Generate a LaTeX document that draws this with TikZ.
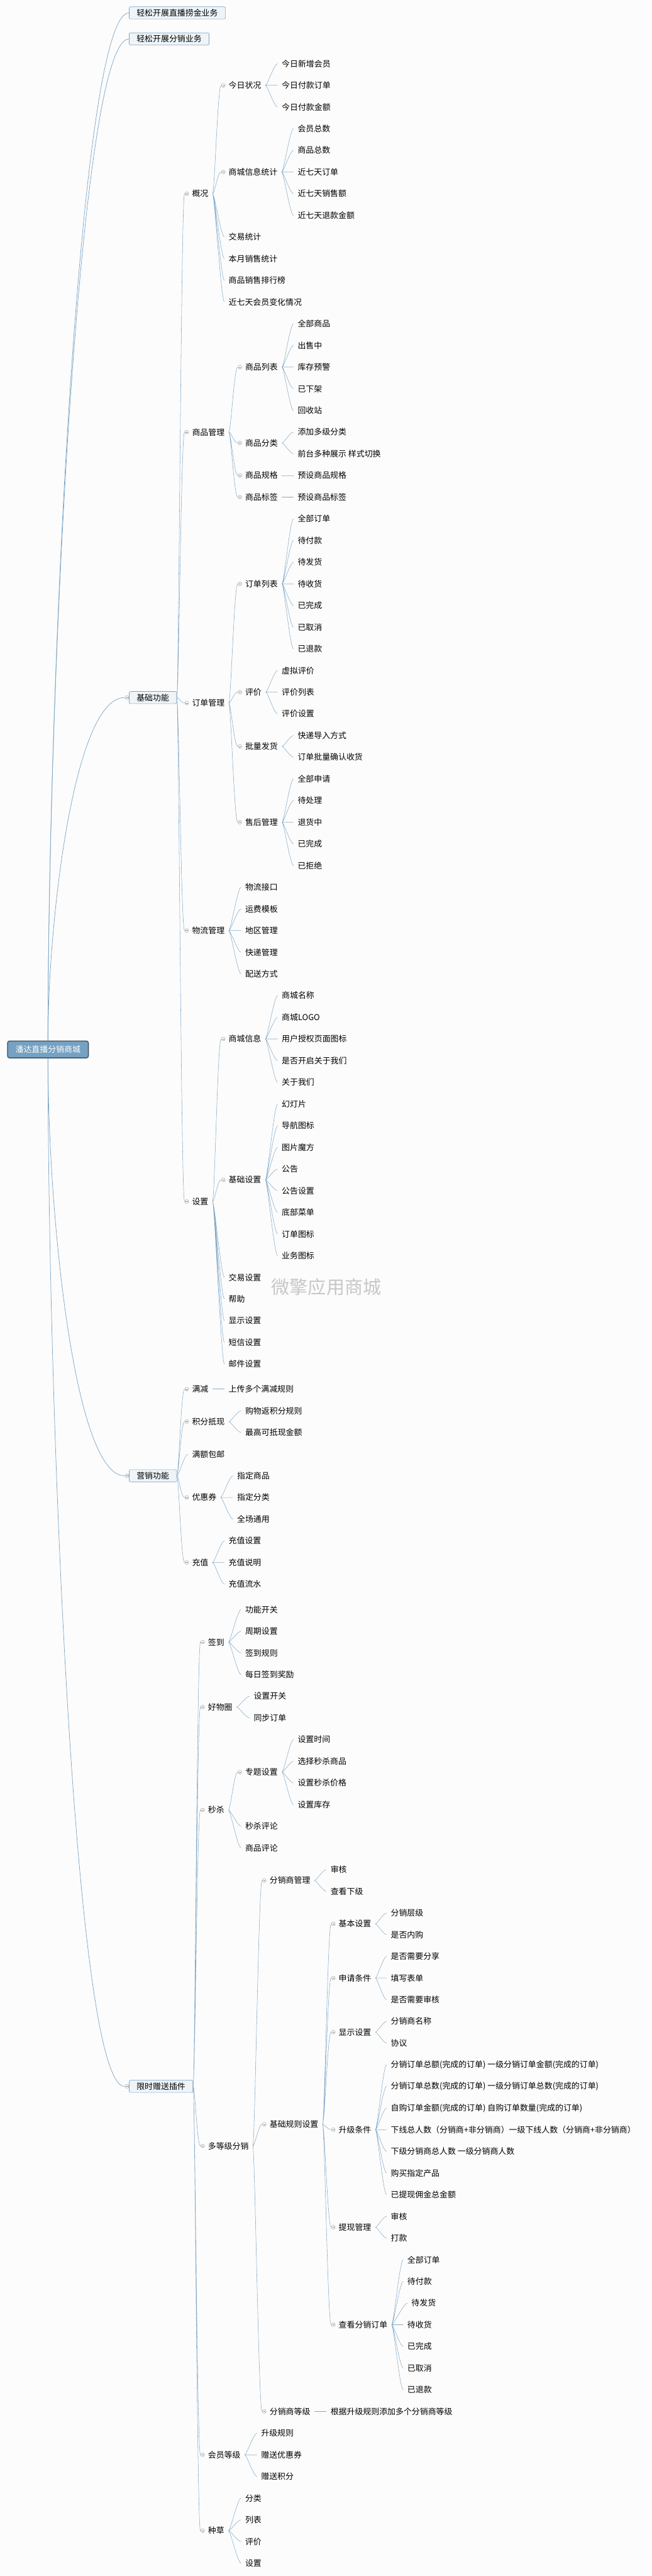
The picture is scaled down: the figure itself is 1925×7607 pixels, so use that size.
\documentclass[tikz,border=0pt]{standalone}
\usepackage{fontspec}
\newfontfamily\zh{Noto Sans CJK SC}
\usetikzlibrary{arrows.meta}
\definecolor{linkc}{RGB}{128,168,200}
\definecolor{boxfill}{RGB}{238,244,248}
\definecolor{boxline}{RGB}{125,164,196}
\definecolor{rootfill}{RGB}{117,161,194}
\definecolor{rootline}{RGB}{62,80,96}
\definecolor{bgc}{RGB}{252,252,252}
\definecolor{foldc}{RGB}{140,140,140}
\newcommand\topicfont{\zh\fontsize{12pt}{14pt}\selectfont}
\tikzset{
  topic/.style={anchor=west, xshift=-6pt, inner xsep=6pt, inner ysep=2pt, font=\topicfont},
  fold/.style={xshift=-5pt, execute at begin node={\hspace*{5pt}},
    path picture={\draw[foldc, line width=0.35pt] ([xshift=3.1pt]path picture bounding box.west) circle (2.8pt);
      \draw[foldc, line width=0.35pt] ([xshift=1.6pt]path picture bounding box.west) -- ([xshift=4.6pt]path picture bounding box.west);}},
  foldmark/.style={circle, draw=foldc, line width=0.35pt, fill=bgc, minimum size=5.6pt, inner sep=0pt,
    path picture={\draw[foldc, line width=0.35pt] ([xshift=1.3pt]path picture bounding box.west) -- ([xshift=-1.3pt]path picture bounding box.east);}},
  branch/.style={anchor=west, draw=boxline, fill=boxfill, line width=0.6pt, rounded corners=2pt,
    inner xsep=11pt, minimum height=18pt, font=\topicfont},
  boxfold/.style={label distance=1pt, label={[foldmark]left:{}}},
  rootbox/.style={anchor=west, draw=rootline, fill=rootfill, line width=1.2pt, rounded corners=3pt,
    text=white, minimum width=119.5pt, minimum height=25pt, font=\topicfont},
  link/.style={draw=linkc, line width=0.5pt, to path={.. controls +(6,0) and +(-10,0) .. (\tikztotarget)}},
  trunk/.style={draw=linkc, line width=0.7pt},
  stamp/.style={font=\zh\fontsize{27pt}{30pt}\selectfont, text=black!22}
}
\begin{document}
\begin{tikzpicture}[x=0.5pt,y=-0.5pt]
  \useasboundingbox (0,0) rectangle (1925,7607);
  \fill[bgc] (0,0) rectangle (1925,7607);

  % root and first level
  \node[rootbox] (rt) at (21,3099) {潘达直播分销商城};
  \node[branch] (zb) at (381,38) {轻松开展直播捞金业务};
  \node[branch] (fx) at (381,115) {轻松开展分销业务};
  \node[branch,boxfold] (jc) at (381,2060) {基础功能};
  \node[branch,boxfold] (yx) at (381,4358) {营销功能};
  \node[branch,boxfold] (xs) at (381,6161) {限时赠送插件};

  \node[stamp] (wm) at (964,3800) {微擎应用商城};

  % 基础功能
  \node[topic,fold] (gk) at (567,572) {概况};
  \node[topic,fold] (jrzk) at (675,252) {今日状况};
  \node[topic] (jrhy) at (832,188) {今日新增会员};
  \node[topic] (jrdd) at (832,252) {今日付款订单};
  \node[topic] (jrje) at (832,316) {今日付款金额};
  \node[topic,fold] (sctj) at (675,508) {商城信息统计};
  \node[topic] (hyzs) at (879,380) {会员总数};
  \node[topic] (spzs) at (879,444) {商品总数};
  \node[topic] (qtdd) at (879,508) {近七天订单};
  \node[topic] (qtxs) at (879,572) {近七天销售额};
  \node[topic] (qttk) at (879,636) {近七天退款金额};
  \node[topic] (jytj) at (675,700) {交易统计};
  \node[topic] (bytj) at (675,764) {本月销售统计};
  \node[topic] (phb) at (675,828) {商品销售排行榜};
  \node[topic] (hybh) at (675,892) {近七天会员变化情况};

  \node[topic,fold] (spgl) at (567,1276) {商品管理};
  \node[topic,fold] (splb) at (724,1084) {商品列表};
  \node[topic] (qbsp) at (879,956) {全部商品};
  \node[topic] (csz) at (879,1020) {出售中};
  \node[topic] (kcyj) at (879,1084) {库存预警};
  \node[topic] (yxj) at (879,1148) {已下架};
  \node[topic] (hsz) at (879,1212) {回收站};
  \node[topic,fold] (spfl) at (724,1308) {商品分类};
  \node[topic] (djfl) at (879,1276) {添加多级分类};
  \node[topic] (ysqh) at (879,1340) {前台多种展示 样式切换};
  \node[topic,fold] (spgg) at (724,1404) {商品规格};
  \node[topic] (ysgg) at (879,1404) {预设商品规格};
  \node[topic,fold] (spbq) at (724,1468) {商品标签};
  \node[topic] (ysbq) at (879,1468) {预设商品标签};

  \node[topic,fold] (ddgl) at (567,2076) {订单管理};
  \node[topic,fold] (ddlb) at (724,1724) {订单列表};
  \node[topic] (qbdd) at (879,1532) {全部订单};
  \node[topic] (dfk) at (879,1596) {待付款};
  \node[topic] (dfh) at (879,1660) {待发货};
  \node[topic] (dsh) at (879,1724) {待收货};
  \node[topic] (ywc) at (879,1788) {已完成};
  \node[topic] (yqx) at (879,1852) {已取消};
  \node[topic] (ytk) at (879,1916) {已退款};
  \node[topic,fold] (pj) at (724,2044) {评价};
  \node[topic] (xnpj) at (832,1980) {虚拟评价};
  \node[topic] (pjlb) at (832,2044) {评价列表};
  \node[topic] (pjsz) at (832,2108) {评价设置};
  \node[topic,fold] (plfh) at (724,2204) {批量发货};
  \node[topic] (kddr) at (879,2172) {快递导入方式};
  \node[topic] (plsh) at (879,2236) {订单批量确认收货};
  \node[topic,fold] (shgl) at (724,2428) {售后管理};
  \node[topic] (qbsq) at (879,2300) {全部申请};
  \node[topic] (dcl) at (879,2364) {待处理};
  \node[topic] (thz) at (879,2428) {退货中};
  \node[topic] (shwc) at (879,2492) {已完成};
  \node[topic] (yjj) at (879,2556) {已拒绝};

  \node[topic,fold] (wlgl) at (567,2748) {物流管理};
  \node[topic] (wljk) at (724,2620) {物流接口};
  \node[topic] (yfmb) at (724,2684) {运费模板};
  \node[topic] (dqgl) at (724,2748) {地区管理};
  \node[topic] (kdgl) at (724,2812) {快递管理};
  \node[topic] (psfs) at (724,2876) {配送方式};

  \node[topic,fold] (sz) at (567,3548) {设置};
  \node[topic,fold] (scxx) at (675,3068) {商城信息};
  \node[topic] (scmc) at (832,2940) {商城名称};
  \node[topic] (logo) at (832,3004) {商城LOGO};
  \node[topic] (sqtb) at (832,3068) {用户授权页面图标};
  \node[topic] (sfgy) at (832,3132) {是否开启关于我们};
  \node[topic] (gywm) at (832,3196) {关于我们};
  \node[topic,fold] (jcsz) at (675,3484) {基础设置};
  \node[topic] (hdp) at (832,3260) {幻灯片};
  \node[topic] (dhtb) at (832,3324) {导航图标};
  \node[topic] (tpmf) at (832,3388) {图片魔方};
  \node[topic] (gg) at (832,3452) {公告};
  \node[topic] (ggsz) at (832,3516) {公告设置};
  \node[topic] (dbcd) at (832,3580) {底部菜单};
  \node[topic] (ddtb) at (832,3644) {订单图标};
  \node[topic] (ywtb) at (832,3708) {业务图标};
  \node[topic] (jysz) at (675,3772) {交易设置};
  \node[topic] (bz) at (675,3836) {帮助};
  \node[topic] (xssz) at (675,3900) {显示设置};
  \node[topic] (dxsz) at (675,3964) {短信设置};
  \node[topic] (yjsz) at (675,4028) {邮件设置};

  % 营销功能
  \node[topic,fold] (mj) at (567,4102) {满减};
  \node[topic] (mjgz) at (675,4102) {上传多个满减规则};
  \node[topic,fold] (jfdx) at (567,4198) {积分抵现};
  \node[topic] (fjf) at (724,4166) {购物返积分规则};
  \node[topic] (zgdx) at (724,4230) {最高可抵现金额};
  \node[topic] (myby) at (567,4294) {满额包邮};
  \node[topic,fold] (yhq) at (567,4422) {优惠券};
  \node[topic] (zdsp) at (700,4358) {指定商品};
  \node[topic] (zdfl) at (700,4422) {指定分类};
  \node[topic] (qcty) at (700,4486) {全场通用};
  \node[topic,fold] (cz) at (567,4614) {充值};
  \node[topic] (czsz) at (675,4550) {充值设置};
  \node[topic] (czsm) at (675,4614) {充值说明};
  \node[topic] (czls) at (675,4678) {充值流水};

  % 限时赠送插件
  \node[topic,fold] (qd) at (614,4849) {签到};
  \node[topic] (gnkg) at (724,4753) {功能开关};
  \node[topic] (zqsz) at (724,4817) {周期设置};
  \node[topic] (qdgz) at (724,4881) {签到规则};
  \node[topic] (mrjl) at (724,4945) {每日签到奖励};
  \node[topic,fold] (hwq) at (614,5041) {好物圈};
  \node[topic] (szkg) at (749,5009) {设置开关};
  \node[topic] (tbdd) at (749,5073) {同步订单};
  \node[topic,fold] (ms) at (614,5345) {秒杀};
  \node[topic,fold] (ztsz) at (724,5233) {专题设置};
  \node[topic] (szsj) at (879,5137) {设置时间};
  \node[topic] (xzsp) at (879,5201) {选择秒杀商品};
  \node[topic] (msjg) at (879,5265) {设置秒杀价格};
  \node[topic] (szkc) at (879,5329) {设置库存};
  \node[topic] (mspl) at (724,5393) {秒杀评论};
  \node[topic] (sppl) at (724,5457) {商品评论};

  \node[topic,fold] (ddj) at (614,6337) {多等级分销};
  \node[topic,fold] (fxgl) at (796,5553) {分销商管理};
  \node[topic] (fxsh) at (976,5521) {审核};
  \node[topic] (ckxj) at (976,5585) {查看下级};
  \node[topic,fold] (gzsz) at (796,6273) {基础规则设置};
  \node[topic,fold] (jbsz) at (1000,5681) {基本设置};
  \node[topic] (fxcj) at (1154,5649) {分销层级};
  \node[topic] (sfng) at (1154,5713) {是否内购};
  \node[topic,fold] (sqtj) at (1000,5841) {申请条件};
  \node[topic] (xyfx) at (1154,5777) {是否需要分享};
  \node[topic] (txbd) at (1154,5841) {填写表单};
  \node[topic] (xysh) at (1154,5905) {是否需要审核};
  \node[topic,fold] (fxxs) at (1000,6001) {显示设置};
  \node[topic] (fxmc) at (1154,5969) {分销商名称};
  \node[topic] (xy) at (1154,6033) {协议};
  \node[topic,fold] (sjtj) at (1000,6289) {升级条件};
  \node[topic] (sj1) at (1154,6097) {分销订单总额(完成的订单) 一级分销订单金额(完成的订单)};
  \node[topic] (sj2) at (1154,6161) {分销订单总数(完成的订单) 一级分销订单总数(完成的订单)};
  \node[topic] (sj3) at (1154,6225) {自购订单金额(完成的订单) 自购订单数量(完成的订单)};
  \node[topic] (sj4) at (1154,6289) {下线总人数（分销商+非分销商）一级下线人数（分销商+非分销商）};
  \node[topic] (sj5) at (1154,6353) {下级分销商总人数 一级分销商人数};
  \node[topic] (sj6) at (1154,6417) {购买指定产品};
  \node[topic] (sj7) at (1154,6481) {已提现佣金总金额};
  \node[topic,fold] (txgl) at (1000,6577) {提现管理};
  \node[topic] (txsh) at (1154,6545) {审核};
  \node[topic] (dk) at (1154,6609) {打款};
  \node[topic,fold] (ckdd) at (1000,6865) {查看分销订单};
  \node[topic] (fd1) at (1203,6673) {全部订单};
  \node[topic] (fd2) at (1203,6737) {待付款};
  \node[topic] (fd3) at (1215,6801) {待发货};
  \node[topic] (fd4) at (1203,6865) {待收货};
  \node[topic] (fd5) at (1203,6929) {已完成};
  \node[topic] (fd6) at (1203,6993) {已取消};
  \node[topic] (fd7) at (1203,7057) {已退款};
  \node[topic,fold] (fxdj) at (796,7121) {分销商等级};
  \node[topic] (tjdj) at (976,7121) {根据升级规则添加多个分销商等级};

  \node[topic,fold] (hydj) at (614,7249) {会员等级};
  \node[topic] (sjgz) at (771,7185) {升级规则};
  \node[topic] (zsyhq) at (771,7249) {赠送优惠券};
  \node[topic] (zsjf) at (771,7313) {赠送积分};
  \node[topic,fold] (zc) at (614,7473) {种草};
  \node[topic] (zcfl) at (724,7377) {分类};
  \node[topic] (zclb) at (724,7441) {列表};
  \node[topic] (zcpj) at (724,7505) {评价};
  \node[topic] (zcsz) at (724,7569) {设置};

  % connectors from the root
  \draw[trunk] (rt.north) .. controls +(0,-1000) and +(-150,0) .. (zb.west);
  \draw[trunk] (rt.north) .. controls +(0,-1000) and +(-150,0) .. (fx.west);
  \draw[trunk] (rt.north) .. controls +(0,-350) and +(-150,0) .. ([xshift=-6.6pt]jc.west);
  \draw[trunk] (rt.south) .. controls +(0,450) and +(-150,0) .. ([xshift=-6.6pt]yx.west);
  \draw[trunk] (rt.south) .. controls +(0,1000) and +(-150,0) .. ([xshift=-6.6pt]xs.west);

  % 基础功能
  \draw[link] (jc.east) to (gk.west) (jc.east) to (spgl.west) (jc.east) to (ddgl.west)
    (jc.east) to (wlgl.west) (jc.east) to (sz.west);
  \draw[link] (gk.east) to (jrzk.west) (gk.east) to (sctj.west) (gk.east) to (jytj.west)
    (gk.east) to (bytj.west) (gk.east) to (phb.west) (gk.east) to (hybh.west);
  \draw[link] (jrzk.east) to (jrhy.west) (jrzk.east) to (jrdd.west) (jrzk.east) to (jrje.west);
  \draw[link] (sctj.east) to (hyzs.west) (sctj.east) to (spzs.west) (sctj.east) to (qtdd.west)
    (sctj.east) to (qtxs.west) (sctj.east) to (qttk.west);
  \draw[link] (spgl.east) to (splb.west) (spgl.east) to (spfl.west) (spgl.east) to (spgg.west)
    (spgl.east) to (spbq.west);
  \draw[link] (splb.east) to (qbsp.west) (splb.east) to (csz.west) (splb.east) to (kcyj.west)
    (splb.east) to (yxj.west) (splb.east) to (hsz.west);
  \draw[link] (spfl.east) to (djfl.west) (spfl.east) to (ysqh.west);
  \draw[link] (spgg.east) to (ysgg.west);
  \draw[link] (spbq.east) to (ysbq.west);
  \draw[link] (ddgl.east) to (ddlb.west) (ddgl.east) to (pj.west) (ddgl.east) to (plfh.west)
    (ddgl.east) to (shgl.west);
  \draw[link] (ddlb.east) to (qbdd.west) (ddlb.east) to (dfk.west) (ddlb.east) to (dfh.west)
    (ddlb.east) to (dsh.west) (ddlb.east) to (ywc.west) (ddlb.east) to (yqx.west)
    (ddlb.east) to (ytk.west);
  \draw[link] (pj.east) to (xnpj.west) (pj.east) to (pjlb.west) (pj.east) to (pjsz.west);
  \draw[link] (plfh.east) to (kddr.west) (plfh.east) to (plsh.west);
  \draw[link] (shgl.east) to (qbsq.west) (shgl.east) to (dcl.west) (shgl.east) to (thz.west)
    (shgl.east) to (shwc.west) (shgl.east) to (yjj.west);
  \draw[link] (wlgl.east) to (wljk.west) (wlgl.east) to (yfmb.west) (wlgl.east) to (dqgl.west)
    (wlgl.east) to (kdgl.west) (wlgl.east) to (psfs.west);
  \draw[link] (sz.east) to (scxx.west) (sz.east) to (jcsz.west) (sz.east) to (jysz.west)
    (sz.east) to (bz.west) (sz.east) to (xssz.west) (sz.east) to (dxsz.west) (sz.east) to (yjsz.west);
  \draw[link] (scxx.east) to (scmc.west) (scxx.east) to (logo.west) (scxx.east) to (sqtb.west)
    (scxx.east) to (sfgy.west) (scxx.east) to (gywm.west);
  \draw[link] (jcsz.east) to (hdp.west) (jcsz.east) to (dhtb.west) (jcsz.east) to (tpmf.west)
    (jcsz.east) to (gg.west) (jcsz.east) to (ggsz.west) (jcsz.east) to (dbcd.west)
    (jcsz.east) to (ddtb.west) (jcsz.east) to (ywtb.west);

  % 营销功能
  \draw[link] (yx.east) to (mj.west) (yx.east) to (jfdx.west) (yx.east) to (myby.west)
    (yx.east) to (yhq.west) (yx.east) to (cz.west);
  \draw[link] (mj.east) to (mjgz.west);
  \draw[link] (jfdx.east) to (fjf.west) (jfdx.east) to (zgdx.west);
  \draw[link] (yhq.east) to (zdsp.west) (yhq.east) to (zdfl.west) (yhq.east) to (qcty.west);
  \draw[link] (cz.east) to (czsz.west) (cz.east) to (czsm.west) (cz.east) to (czls.west);

  % 限时赠送插件
  \draw[link] (xs.east) to (qd.west) (xs.east) to (hwq.west) (xs.east) to (ms.west)
    (xs.east) to (ddj.west) (xs.east) to (hydj.west) (xs.east) to (zc.west);
  \draw[link] (qd.east) to (gnkg.west) (qd.east) to (zqsz.west) (qd.east) to (qdgz.west)
    (qd.east) to (mrjl.west);
  \draw[link] (hwq.east) to (szkg.west) (hwq.east) to (tbdd.west);
  \draw[link] (ms.east) to (ztsz.west) (ms.east) to (mspl.west) (ms.east) to (sppl.west);
  \draw[link] (ztsz.east) to (szsj.west) (ztsz.east) to (xzsp.west) (ztsz.east) to (msjg.west)
    (ztsz.east) to (szkc.west);
  \draw[link] (ddj.east) to (fxgl.west) (ddj.east) to (gzsz.west) (ddj.east) to (fxdj.west);
  \draw[link] (fxgl.east) to (fxsh.west) (fxgl.east) to (ckxj.west);
  \draw[link] (gzsz.east) to (jbsz.west) (gzsz.east) to (sqtj.west) (gzsz.east) to (fxxs.west)
    (gzsz.east) to (sjtj.west) (gzsz.east) to (txgl.west) (gzsz.east) to (ckdd.west);
  \draw[link] (jbsz.east) to (fxcj.west) (jbsz.east) to (sfng.west);
  \draw[link] (sqtj.east) to (xyfx.west) (sqtj.east) to (txbd.west) (sqtj.east) to (xysh.west);
  \draw[link] (fxxs.east) to (fxmc.west) (fxxs.east) to (xy.west);
  \draw[link] (sjtj.east) to (sj1.west) (sjtj.east) to (sj2.west) (sjtj.east) to (sj3.west)
    (sjtj.east) to (sj4.west) (sjtj.east) to (sj5.west) (sjtj.east) to (sj6.west)
    (sjtj.east) to (sj7.west);
  \draw[link] (txgl.east) to (txsh.west) (txgl.east) to (dk.west);
  \draw[link] (ckdd.east) to (fd1.west) (ckdd.east) to (fd2.west) (ckdd.east) to (fd3.west)
    (ckdd.east) to (fd4.west) (ckdd.east) to (fd5.west) (ckdd.east) to (fd6.west)
    (ckdd.east) to (fd7.west);
  \draw[link] (fxdj.east) to (tjdj.west);
  \draw[link] (hydj.east) to (sjgz.west) (hydj.east) to (zsyhq.west) (hydj.east) to (zsjf.west);
  \draw[link] (zc.east) to (zcfl.west) (zc.east) to (zclb.west) (zc.east) to (zcpj.west)
    (zc.east) to (zcsz.west);
\end{tikzpicture}
\end{document}
